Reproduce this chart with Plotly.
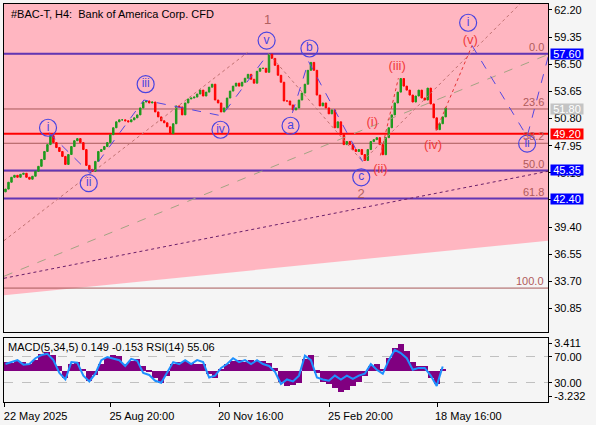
import plotly.graph_objects as go

title_text = "#BAC-T, H4:  Bank of America Corp. CFD"
ind_text = "MACD(5,34,5) 0.149 -0.153 RSI(14) 55.06"

# ---- price data (H4 closes, one per ~3 px) ----
closes = [43.39, 44.11, 44.63, 44.84, 44.63, 44.94, 45.05, 44.63, 44.43, 44.74,
          45.26, 45.78, 46.50, 47.34, 48.06, 49.00, 48.27, 47.75, 47.34, 46.82,
          45.98, 47.02, 47.86, 48.47, 48.69, 48.27, 47.54, 45.88, 45.46, 45.26,
          46.30, 47.34, 47.54, 47.86, 48.27, 49.10, 49.83, 50.45, 50.66, 50.66,
          50.56, 50.45, 50.66, 50.87, 51.18, 51.91, 52.53, 52.64, 52.43, 52.53,
          51.49, 50.97, 50.56, 50.35, 49.93, 49.21, 50.25, 52.12, 52.01, 51.18,
          52.43, 52.85, 52.95, 53.05, 53.37, 53.78, 53.16, 53.57, 54.09, 54.40,
          52.74, 52.43, 51.49, 51.91, 52.95, 53.68, 54.20, 54.51, 54.20, 54.61,
          55.03, 55.44, 54.92, 54.51, 55.76, 56.07, 56.07, 55.65, 57.55, 57.11,
          56.38, 55.34, 54.61, 52.64, 52.64, 52.22, 51.70, 51.91, 52.74, 53.47,
          54.40, 55.86, 56.69, 55.86, 53.26, 52.12, 52.43, 51.91, 51.29, 51.70,
          49.83, 50.45, 49.10, 48.06, 48.38, 48.06, 47.54, 47.34, 47.54, 47.02,
          46.40, 47.54, 48.38, 48.58, 48.79, 48.06, 47.00, 48.79, 49.83, 51.18,
          52.43, 53.57, 55.00, 54.20, 53.78, 53.26, 52.53, 53.16, 53.78, 52.95,
          52.74, 53.99, 52.33, 50.87, 49.63, 50.25, 50.97, 51.91]
first_open = 43.10
opens = [first_open] + closes[:-1]
highs = [max(o, c) for o, c in zip(opens, closes)]
lows = [min(o, c) for o, c in zip(opens, closes)]
bars = list(range(len(closes)))

# ---- indicator data (one value per 2 bars) ----
macd_hist = [1.15, 1.03, 1.28, 1.15, 0.90, 1.40, 2.16, 2.41, 2.03, 0.65,
             -0.85, 0.90, 1.15, 0.15, -1.23, -0.48, 0.90, 1.65, 2.03, 1.90,
             0.90, 1.28, 1.53, 0.65, -0.10, -0.85, -1.48, -0.60, 0.90, 1.15,
             1.28, 1.03, 0.90, 0.90, -0.35, -0.85, 0.15, 0.90, 1.28, 1.40,
             1.15, 1.40, 1.28, 1.28, 1.03, 0.40, -1.35, -1.85, -1.73, -1.48,
             1.53, 2.03, -0.23, -1.35, -1.60, -2.11, -2.73, -2.36, -1.85, -1.35,
             -0.60, 0.65, 0.90, 0.15, 1.65, 2.91, 3.41, 2.53, 1.15, 0.65,
             0.65, -0.85, -1.60, 0.149]
rsi_vals = [59, 62, 65, 58, 59, 68, 73, 75, 65, 45,
            35, 62, 61, 41, 32, 44, 65, 70, 68, 65,
            56, 67, 64, 45, 42, 33, 30, 47, 62, 59,
            65, 59, 65, 62, 38, 41, 53, 59, 68, 62,
            65, 59, 65, 59, 56, 47, 28, 35, 32, 41,
            72, 65, 38, 35, 33, 41, 35, 41, 36, 41,
            44, 59, 50, 44, 65, 81, 76, 68, 50, 53,
            53, 41, 25, 55.06]
ind_bars = [2 * k for k in range(len(macd_hist))]

# ---- axes ----
x_range = [-0.5, 181.17]
y_range = [28.42, 62.82]
tick_bars = [-0.3, 35.2, 71.5, 108.2, 144.2]
tick_labels = ["22 May 2025", "25 Aug 20:00", "20 Nov 16:00", "25 Feb 20:00", "18 May 16:00"]
price_ticks = [62.20, 59.35, 56.50, 53.65, 50.80, 47.95, 45.10, 42.25, 39.40, 36.55, 33.70, 30.85]

# ---- levels ----
key_levels = [57.60, 49.20, 45.35, 42.40]
key_colors = ["#6236b4", "#ff0000", "#6236b4", "#6236b4"]
fib_names = ["0.0", "23.6", "38.2", "50.0", "61.8", "100.0"]
fib_prices = [57.60, 51.80, 48.20, 45.30, 42.40, 33.00]
tag_prices = [57.60, 51.80, 49.20, 45.35, 42.40]
tag_colors = ["#0000ff", "#c4c4c4", "#ff0000", "#0000ff", "#0000ff"]

# pink channel (lower boundary)
chan_x = [-0.5, 181.17]
chan_low = [32.26, 37.98]

# trend / wave lines (bar, price)
brown_x = [-0.5, 80.8, None, 87.8, 119.2, None, 119.2, 172.8]
brown_y = [37.98, 57.73, None, 57.63, 46.30, None, 46.30, 63.14]
gray_x = [-0.5, 181.17]
gray_y = [34.24, 57.52]
dpur_x = [-0.5, 181.17]
dpur_y = [34.03, 45.26]
blue_x = [14.5, 28.2, 46.2, 72.2, 87.8, None, 95.8, 101.2, 119.2, None, 155.8, 174.2, 182.2]
blue_y = [49.31, 45.05, 52.74, 51.08, 57.63, None, 51.39, 56.79, 46.30, None, 58.46, 48.90, 58.46]
red_x = [125.2, 131.2, None, 143.8, 155.8]
red_y = [46.92, 55.03, None, 49.52, 58.46]

# wave labels
circ_text = ["i", "ii", "iii", "iv", "v", "a", "b", "c", "i", "ii"]
circ_x = [14.2, 27.8, 46.8, 71.8, 87.2, 95.2, 101.5, 118.8, 154.5, 174.2]
circ_y = [49.83, 44.01, 54.40, 49.62, 58.98, 50.04, 58.15, 44.63, 60.85, 48.17]
red_text = ["(i)", "(ii)", "(iii)", "(iv)", "(v)"]
red_lx = [122.5, 125.2, 130.8, 142.8, 155.2]
red_ly = [50.35, 45.46, 56.28, 47.96, 58.98]
num_text = ["1", "2"]
num_x = [87.5, 118.8]
num_y = [61.06, 42.76]

FONT = "Liberation Sans"
BG = "#f5f5f5"
PINK = "#ffb6c1"

fig = go.Figure()

# trend lines
fig.add_trace(go.Scatter(x=gray_x, y=gray_y, mode="lines",
                         line=dict(color="#a3a383", width=1, dash="dash"), hoverinfo="skip"))
fig.add_trace(go.Scatter(x=dpur_x, y=dpur_y, mode="lines",
                         line=dict(color="#6a1f6a", width=1, dash="dot"), hoverinfo="skip"))
fig.add_trace(go.Scatter(x=brown_x, y=brown_y, mode="lines",
                         line=dict(color="#c07272", width=1, dash="dot"), hoverinfo="skip"))
fig.add_trace(go.Scatter(x=red_x, y=red_y, mode="lines",
                         line=dict(color="#e53535", width=1, dash="dot"), hoverinfo="skip"))
fig.add_trace(go.Scatter(x=blue_x, y=blue_y, mode="lines",
                         line=dict(color="#5348e0", width=1, dash="dash"), hoverinfo="skip"))

# candles
fig.add_trace(go.Candlestick(x=bars, open=opens, high=highs, low=lows, close=closes,
                             increasing=dict(line=dict(color="#1e9a1e", width=1), fillcolor="#1e9a1e"),
                             decreasing=dict(line=dict(color="#ff0000", width=1), fillcolor="#ff0000"),
                             whiskerwidth=0, hoverinfo="skip"))

# wave labels
fig.add_trace(go.Scatter(x=circ_x, y=circ_y, mode="markers+text", text=circ_text,
                         textposition="middle center",
                         textfont=dict(family=FONT, size=12, color="#4a44e0"),
                         marker=dict(symbol="circle-open", size=17, color="#4a44e0",
                                     line=dict(width=1.2, color="#4a44e0")),
                         hoverinfo="skip"))
fig.add_trace(go.Scatter(x=red_lx, y=red_ly, mode="text", text=red_text,
                         textfont=dict(family=FONT, size=13, color="#f03a3a"), hoverinfo="skip"))
fig.add_trace(go.Scatter(x=num_x, y=num_y, mode="text", text=num_text,
                         textfont=dict(family=FONT, size=13, color="#b06060"), hoverinfo="skip"))

# indicator panel
fig.add_trace(go.Bar(x=ind_bars, y=macd_hist, width=2, marker=dict(color="#800080", line=dict(width=0)),
                     xaxis="x2", yaxis="y2", hoverinfo="skip"))
fig.add_trace(go.Scatter(x=ind_bars, y=rsi_vals, mode="lines", line=dict(color="#1e90ff", width=2),
                         xaxis="x2", yaxis="y3", hoverinfo="skip"))

shapes = []
# pink channel area
path = (f"M {chan_x[0]},{chan_low[0]} L {chan_x[1]},{chan_low[1]} "
        f"L {chan_x[1]},{y_range[1]} L {chan_x[0]},{y_range[1]} Z")
shapes.append(dict(type="path", path=path, xref="x", yref="y", fillcolor=PINK,
                   line=dict(width=0), layer="below"))
for p in fib_prices:
    shapes.append(dict(type="line", xref="x", yref="y", x0=x_range[0], x1=x_range[1], y0=p, y1=p,
                       line=dict(color="#a85a5a", width=1), layer="below"))
for p, c in zip(key_levels, key_colors):
    shapes.append(dict(type="line", xref="x", yref="y", x0=x_range[0], x1=x_range[1], y0=p, y1=p,
                       line=dict(color=c, width=2), layer="below"))

annotations = []
annotations.append(dict(text=title_text, x=0, y=1, xref="paper", yref="paper", xanchor="left",
                        yanchor="top", xshift=5, yshift=-2, showarrow=False,
                        font=dict(family=FONT, size=11, color="black")))
annotations.append(dict(text=ind_text, x=0, y=0.1617, xref="paper", yref="paper", xanchor="left",
                        yanchor="top", xshift=2, yshift=-1, showarrow=False,
                        font=dict(family=FONT, size=11, color="black")))
for n, p in zip(fib_names, fib_prices):
    annotations.append(dict(text=n, x=1, y=p, xref="paper", yref="y", xanchor="right",
                            yanchor="bottom", xshift=-2, yshift=-1, showarrow=False,
                            font=dict(family=FONT, size=11, color="#b05a5a")))
for p, c in zip(tag_prices, tag_colors):
    annotations.append(dict(text=f"{p:.2f}", x=1, y=p, xref="paper", yref="y", xanchor="left",
                            yanchor="middle", xshift=2, showarrow=False, bgcolor=c, borderpad=0,
                            width=32, height=10, align="center",
                            font=dict(family=FONT, size=11, color="white")))

fig.update_layout(
    width=596, height=425,
    margin=dict(l=3, r=48, t=3, b=20),
    paper_bgcolor=BG, plot_bgcolor=BG,
    showlegend=False, bargap=0,
    shapes=shapes, annotations=annotations,
    font=dict(family=FONT, size=11, color="black"),
    xaxis=dict(domain=[0, 1], range=x_range, anchor="y", showticklabels=False,
               showgrid=False, zeroline=False, showline=True, mirror=True, linecolor="black",
               rangeslider=dict(visible=False), ticks=""),
    yaxis=dict(domain=[0.1766, 1], range=y_range, side="right", tickvals=price_ticks,
               ticktext=[f"{v:.2f}" for v in price_ticks], ticks="outside", ticklen=3,
               tickcolor="black", showgrid=False, zeroline=False, showline=True, mirror=True,
               linecolor="black", tickfont=dict(family=FONT, size=11, color="black")),
    xaxis2=dict(domain=[0, 1], range=x_range, anchor="y2", matches="x", tickvals=tick_bars,
                ticktext=tick_labels, ticks="outside", ticklen=4, tickcolor="black",
                ticklabelshift=31, showgrid=False, zeroline=False, showline=True, mirror=True,
                linecolor="black", tickfont=dict(family=FONT, size=11, color="black")),
    yaxis2=dict(domain=[0, 0.1617], range=[-3.984, 4.163], side="right", anchor="x2",
                tickvals=[3.411, -3.232], ticktext=["3.411", "-3.232"], ticks="outside",
                ticklen=3, tickcolor="black", showgrid=False, zeroline=False, showline=True,
                mirror=True, linecolor="black", tickfont=dict(family=FONT, size=11, color="black")),
    yaxis3=dict(domain=[0, 0.1617], range=[0, 100], side="right", overlaying="y2", anchor="x2",
                tickvals=[70, 30], ticktext=["70.00", "30.00"], ticks="outside", ticklen=3,
                tickcolor="black", showgrid=True, gridcolor="#c0c0c0", griddash="dash",
                zeroline=False, showline=False, tickfont=dict(family=FONT, size=11, color="black")),
)

fig.write_html("out.html")
